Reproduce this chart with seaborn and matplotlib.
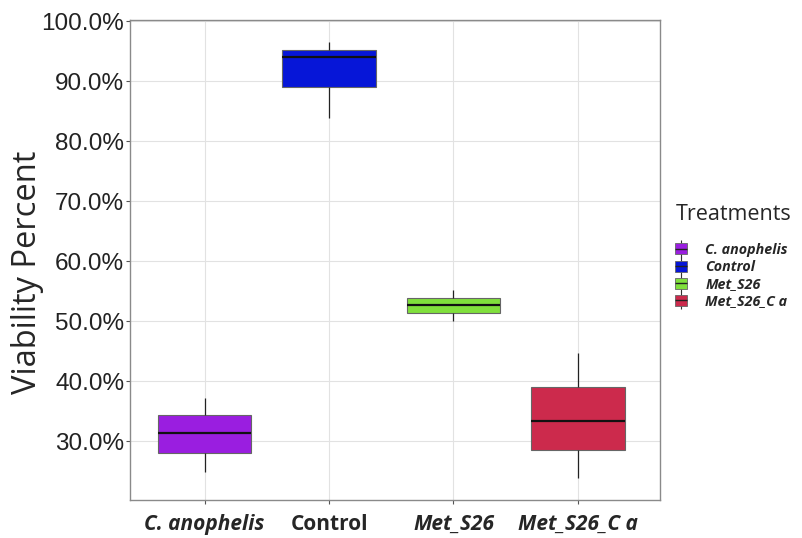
import numpy as np
import pandas as pd
import seaborn as sns
import matplotlib.pyplot as plt
from matplotlib.patches import Patch
from matplotlib.lines import Line2D
from matplotlib.legend_handler import HandlerTuple
from matplotlib.ticker import PercentFormatter

# five-number summaries (min, q1, median, q3, max)
treatments = ["C. anophelis", "Control", "Met_S26", "Met_S26_C a"]
c_anophelis = [24.8, 28.0, 31.3, 34.3, 37.2]
control = [83.9, 89.0, 94.0, 95.3, 96.5]
met_s26 = [50.0, 51.3, 52.7, 53.8, 55.2]
met_s26_ca = [23.8, 28.5, 33.3, 39.0, 44.7]
colors = ["#9a1ee0", "#0616d8", "#80e03c", "#cc2a4c"]

df = pd.DataFrame({
    "Treatments": np.repeat(treatments, 5),
    "Viability": c_anophelis + control + met_s26 + met_s26_ca,
})

sns.set_style("white")
fig = plt.figure(figsize=(8.02, 5.38), dpi=100)
ax = fig.add_axes([0.162, 0.0706, 0.661, 0.892])

sns.boxplot(data=df, x="Treatments", y="Viability", hue="Treatments",
            order=treatments, hue_order=treatments, palette=colors,
            width=0.75, whis=1.5, linewidth=0.8, linecolor="#666666",
            saturation=1, legend=False, ax=ax,
            medianprops={"color": "#111111", "linewidth": 1.6},
            whiskerprops={"color": "#222222", "linewidth": 0.9},
            capprops={"visible": False})

ax.set_ylim(20.2, 100.2)
ax.set_xlim(-0.6, 3.66)
ax.set_yticks(np.arange(30, 101, 10))
ax.yaxis.set_major_formatter(PercentFormatter(decimals=1))
ax.grid(True, color="#e2e2e2", linewidth=0.8)
ax.set_axisbelow(True)
for s in ax.spines.values():
    s.set_color("#8a8a8a")
    s.set_linewidth(1.0)
ax.tick_params(axis="both", length=3, color="#555555", left=True, bottom=True)
ax.tick_params(axis="y", pad=1)

for lab in ax.get_yticklabels():
    lab.set_family("Liberation Sans")
    lab.set_fontsize(17.5)
    lab.set_color("#222222")

ax.set_xticks(range(4))
ax.set_xticklabels(treatments)
for lab in ax.get_xticklabels():
    lab.set_family("Open Sans")
    lab.set_fontsize(15)
    lab.set_fontweight("bold")
    lab.set_style("normal" if lab.get_text() == "Control" else "italic")
ax.tick_params(axis="x", pad=7)

ax.set_xlabel("")
ax.set_ylabel("Viability Percent", fontsize=23.5, family="Open Sans")
ax.yaxis.set_label_coords(-0.163, 0.475)

handles = []
for c in colors:
    whisk = Line2D([], [], color="#333333", linestyle="None", marker="|",
                   markersize=13, markeredgewidth=0.8)
    box = Patch(facecolor=c, edgecolor="#666666", linewidth=0.6)
    med = Line2D([], [], color="#222222", linestyle="None", marker="_",
                 markersize=9, markeredgewidth=1.0)
    handles.append((whisk, box, med))

leg = fig.legend(handles, treatments, title="Treatments", loc="upper left",
                 bbox_to_anchor=(0.826, 0.645), frameon=False,
                 handler_map={tuple: HandlerTuple(ndivide=1)},
                 handlelength=0.8, handleheight=0.8, handletextpad=1.3,
                 labelspacing=0.22,
                 prop={"family": "Open Sans", "weight": "bold", "style": "italic", "size": 10.3})
leg.get_title().set_fontsize(15.5)
leg.get_title().set_family("Open Sans")
leg._legend_box.align = "left"
leg._legend_box.sep = 13

fig.savefig("out.png", dpi=100)
